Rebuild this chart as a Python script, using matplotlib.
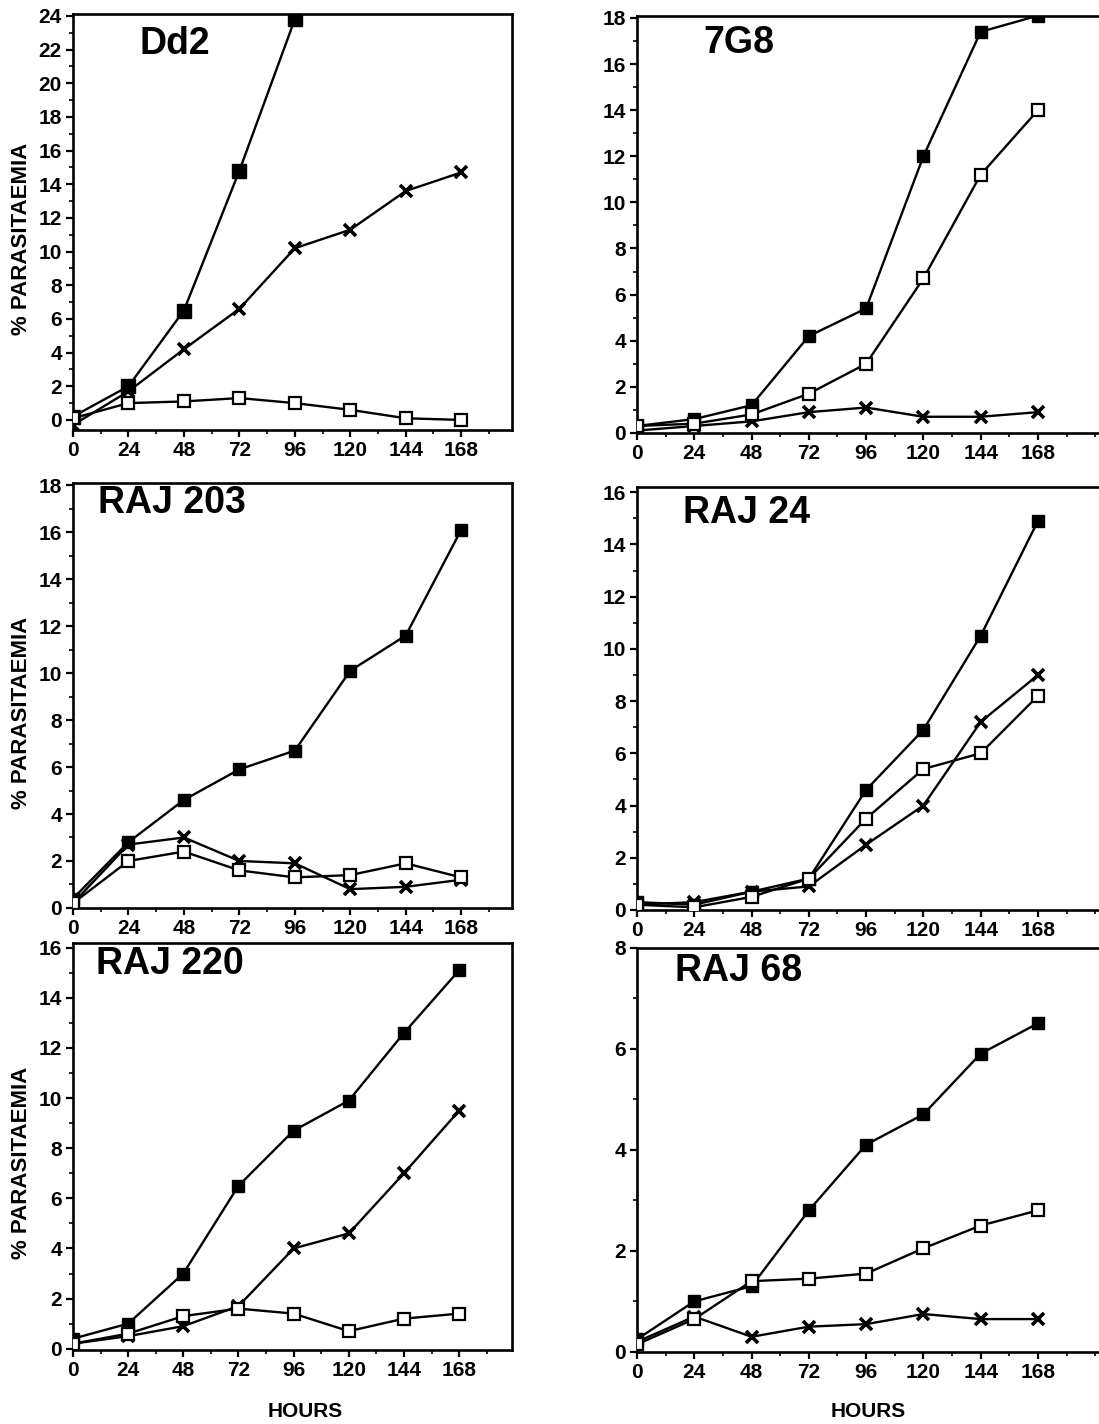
import matplotlib
matplotlib.use("Agg")
from matplotlib import pyplot as plt
from matplotlib.ticker import MultipleLocator

plt.rcParams["font.family"] = ["Liberation Sans", "DejaVu Sans"]
plt.rcParams["font.weight"] = "bold"

hours = [0, 24, 48, 72, 96, 120, 144, 168]

# Dd2
dd2_filled = [0.2, 2.0, 6.5, 14.8, 23.8]
dd2_cross = [-0.3, 1.7, 4.2, 6.6, 10.2, 11.3, 13.6, 14.7]
dd2_open = [0.1, 1.0, 1.1, 1.3, 1.0, 0.6, 0.1, 0.0]

# 7G8
g78_filled = [0.3, 0.6, 1.2, 4.2, 5.4, 12.0, 17.4, 18.1]
g78_cross = [0.1, 0.3, 0.5, 0.9, 1.1, 0.7, 0.7, 0.9]
g78_open = [0.3, 0.4, 0.8, 1.7, 3.0, 6.7, 11.2, 14.0]

# RAJ 203
r203_filled = [0.4, 2.8, 4.6, 5.9, 6.7, 10.1, 11.6, 16.1]
r203_cross = [0.2, 2.7, 3.0, 2.0, 1.9, 0.8, 0.9, 1.2]
r203_open = [0.2, 2.0, 2.4, 1.6, 1.3, 1.4, 1.9, 1.3]

# RAJ 24
r24_filled = [0.3, 0.2, 0.7, 1.2, 4.6, 6.9, 10.5, 14.9]
r24_cross = [0.2, 0.3, 0.7, 0.9, 2.5, 4.0, 7.2, 9.0]
r24_open = [0.2, 0.1, 0.5, 1.2, 3.5, 5.4, 6.0, 8.2]

# RAJ 220
r220_filled = [0.4, 1.0, 3.0, 6.5, 8.7, 9.9, 12.6, 15.1]
r220_cross = [0.2, 0.5, 0.9, 1.7, 4.0, 4.6, 7.0, 9.5]
r220_open = [0.2, 0.6, 1.3, 1.6, 1.4, 0.7, 1.2, 1.4]

# RAJ 68
r68_filled = [0.25, 1.0, 1.3, 2.8, 4.1, 4.7, 5.9, 6.5]
r68_cross = [0.2, 0.7, 0.3, 0.5, 0.55, 0.75, 0.65, 0.65]
r68_open = [0.15, 0.65, 1.4, 1.45, 1.55, 2.05, 2.5, 2.8]

W, H = 1099, 1424

panels = [
    # name, rect, ylim, xmax, data, filled square size, title pixel pos
    ("Dd2", [0.0664, 0.698, 0.3995, 0.292], (-0.6, 24.1), 190,
     (dd2_filled, dd2_cross, dd2_open), 10, (140, 26)),
    ("7G8", [0.5796, 0.696, 0.4300, 0.293], (0, 18.1), 198,
     (g78_filled, g78_cross, g78_open), 9, (703, 25)),
    ("RAJ 203", [0.0664, 0.3624, 0.3995, 0.2985], (0, 18.1), 190,
     (r203_filled, r203_cross, r203_open), 8, (98, 485)),
    ("RAJ 24", [0.5796, 0.361, 0.4300, 0.297], (0, 16.2), 198,
     (r24_filled, r24_cross, r24_open), 8, (683, 495)),
    ("RAJ 220", [0.0664, 0.052, 0.3995, 0.286], (-0.05, 16.2), 191,
     (r220_filled, r220_cross, r220_open), 8, (96, 946)),
    ("RAJ 68", [0.5796, 0.0506, 0.4300, 0.284], (0, 8.0), 198,
     (r68_filled, r68_cross, r68_open), 8, (675, 953)),
]

fig = plt.figure(figsize=(W / 100, H / 100), dpi=100)

for i, (name, rect, ylim, xmax, data, msz, tpos) in enumerate(panels):
    ax = fig.add_axes(rect)
    filled, cross, opened = data
    ax.plot(hours[:len(filled)], filled, color="black", lw=1.7,
            marker="s", ms=msz, mfc="black", mec="black", zorder=3)
    ax.plot(hours, cross, color="black", lw=1.7,
            marker="x", ms=9, mew=2.6, zorder=3)
    ax.plot(hours, opened, color="black", lw=1.7,
            marker="s", ms=8, mfc="white", mec="black", mew=1.6, zorder=4)
    ax.set_xlim(0, xmax)
    ax.set_ylim(*ylim)
    ax.set_xticks(hours)
    ax.xaxis.set_minor_locator(MultipleLocator(12))
    ax.yaxis.set_major_locator(MultipleLocator(2))
    ax.yaxis.set_minor_locator(MultipleLocator(1))
    ax.tick_params(which="major", direction="out", length=5, width=1.6,
                   labelsize=15, pad=3)
    ax.tick_params(which="minor", direction="out", length=3, width=1.2)
    for lbl in ax.get_xticklabels() + ax.get_yticklabels():
        lbl.set_fontweight("bold")
    for sp in ax.spines.values():
        sp.set_linewidth(1.9)
    if i % 2 == 1:
        ax.spines["right"].set_visible(False)
    fig.text(tpos[0] / W, 1 - tpos[1] / H, name, fontsize=27,
             fontweight="bold", va="top", ha="left")
    if i % 2 == 0:
        ax.set_ylabel("% PARASITAEMIA", fontsize=16, fontweight="bold")
        ax.yaxis.set_label_coords(-0.093, 0.46)

fig.text(305 / W, 1 - 1421 / H, "HOURS", fontsize=15, fontweight="bold",
         ha="center", va="bottom")
fig.text(868 / W, 1 - 1421 / H, "HOURS", fontsize=15, fontweight="bold",
         ha="center", va="bottom")

fig.savefig("out.png", dpi=100, facecolor="white")
